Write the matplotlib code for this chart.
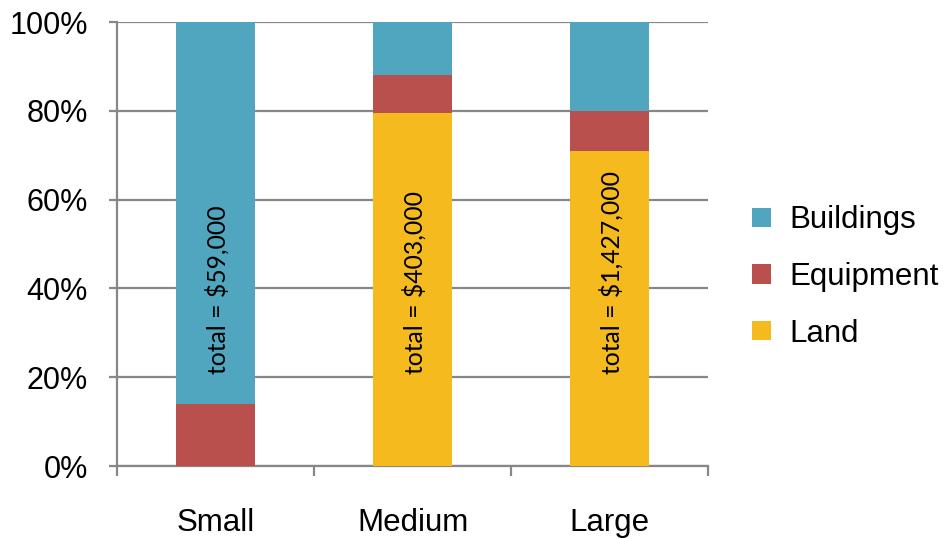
import matplotlib
matplotlib.use("Agg")
import matplotlib.pyplot as plt
import numpy as np

categories = ["Small", "Medium", "Large"]
land = [0.0, 79.5, 71.0]
equipment = [14.0, 8.5, 9.0]
buildings = [86.0, 12.0, 20.0]
totals = ["total = $59,000", "total = $403,000", "total = $1,427,000"]
yticks = [0, 20, 40, 60, 80, 100]
ytick_labels = ["0%", "20%", "40%", "60%", "80%", "100%"]

c_build = "#4FA6BE"
c_equip = "#B9504E"
c_land = "#F5BA1D"
grid_c = "#878787"

plt.rcParams['font.family'] = ['Liberation Sans', 'DejaVu Sans']

fig = plt.figure(figsize=(9.48, 5.38), dpi=100)
ax = fig.add_axes([117/948, 1-466/538, (708-117)/948, (466-22)/538])

x = np.arange(len(categories))
w = 0.396
land_a = np.array(land)
equip_a = np.array(equipment)
build_a = np.array(buildings)
ax.bar(x, land_a, w, color=c_land, label="Land", zorder=3)
ax.bar(x, equip_a, w, bottom=land_a, color=c_equip, label="Equipment", zorder=3)
ax.bar(x, build_a, w, bottom=land_a + equip_a, color=c_build, label="Buildings", zorder=3)

for xi, t in zip(x, totals):
    ax.text(xi + 0.01, 20.8, t, rotation=90, ha='center', va='bottom', fontsize=17.8,
            family=['Lato', 'DejaVu Sans'], zorder=4, color='black')

ax.set_xlim(-0.5, 2.5)
ax.set_ylim(0, 100)
ax.set_yticks(yticks)
ax.set_yticklabels(ytick_labels, fontsize=22)
ax.set_xticks(x)
ax.set_xticklabels(categories, fontsize=22.5)
ax.set_xticks([-0.5, 0.5, 1.5, 2.5], minor=True)
ax.tick_params(axis='x', which='major', length=0, pad=30)
ax.tick_params(axis='x', which='minor', length=7, width=1.6, color=grid_c)
ax.tick_params(axis='y', length=6, width=1.6, color=grid_c, pad=15)
ax.yaxis.grid(True, color=grid_c, linewidth=1.6, zorder=1)
ax.set_axisbelow(True)
for s in ['top', 'right']:
    ax.spines[s].set_visible(False)
for s in ['left', 'bottom']:
    ax.spines[s].set_color(grid_c)
    ax.spines[s].set_linewidth(1.6)
    ax.spines[s].set_zorder(2)

handles, labels = ax.get_legend_handles_labels()
leg = fig.legend(handles[::-1], labels[::-1], loc='center left',
                 bbox_to_anchor=(752/948, 1-277/538), frameon=False,
                 fontsize=22.5, handlelength=0.6, handleheight=0.6,
                 handletextpad=0.6, labelspacing=0.85, borderaxespad=0,
                 borderpad=0)

fig.savefig("out.png", dpi=100)
